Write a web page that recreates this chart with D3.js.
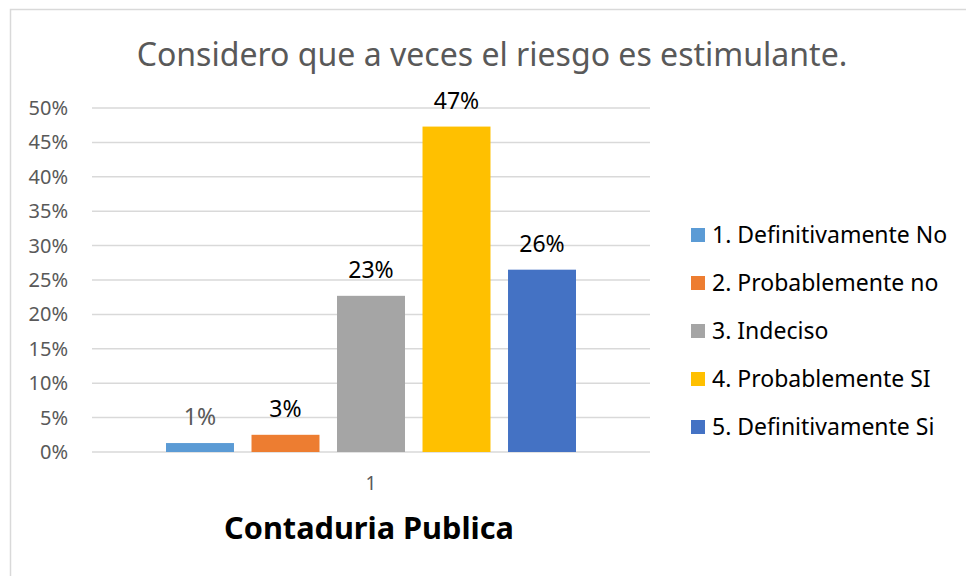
<!DOCTYPE html>
<html>
<head>
<meta charset="utf-8">
<script src="https://cdn.jsdelivr.net/npm/d3@7"></script>
<style>
  body { margin: 0; background: #fff; }
  text { font-family: "Noto Sans", "Open Sans", sans-serif; }
</style>
</head>
<body>
<svg id="chart" width="966" height="576"></svg>
<script>
const TITLE = "Considero que a veces el riesgo es estimulante.";
const AXIS_TITLE = "Contaduria Publica";
const categories = ["1"];
const series = ["1. Definitivamente No", "2. Probablemente no", "3. Indeciso", "4. Probablemente SI", "5. Definitivamente Si"];
const values = [0.013, 0.025, 0.227, 0.473, 0.265];
const labels = ["1%", "3%", "23%", "47%", "26%"];
const colors = ["#5B9BD5", "#ED7D31", "#A5A5A5", "#FFC000", "#4472C4"];
const yTicks = [0, 0.05, 0.1, 0.15, 0.2, 0.25, 0.3, 0.35, 0.4, 0.45, 0.5];

const svg = d3.select("#chart");

// chart border
svg.append("rect")
  .attr("x", 10.5).attr("y", 9.5)
  .attr("width", 970).attr("height", 580)
  .attr("fill", "none")
  .attr("stroke", "#d9d9d9")
  .attr("stroke-width", 1.5);

const plot = { left: 92, right: 650, top: 108, bottom: 452 };

const y = d3.scaleLinear().domain([0, 0.5]).range([plot.bottom, plot.top]);
const x0 = d3.scaleBand().domain(categories).range([plot.left, plot.right]).paddingOuter(0.1805);
const x1 = d3.scaleBand().domain(series).range([0, x0.bandwidth()]).paddingInner(0.205).paddingOuter(0);

// fits text width to a target width by scaling the font size
function fitWidth(sel, target) {
  sel.each(function () {
    const fs = parseFloat(d3.select(this).attr("font-size"));
    const w = this.getComputedTextLength();
    d3.select(this).attr("font-size", fs * target / w);
  });
}

// gridlines
svg.append("g")
  .selectAll("line")
  .data(yTicks)
  .join("line")
  .attr("x1", plot.left).attr("x2", plot.right)
  .attr("y1", d => y(d)).attr("y2", d => y(d))
  .attr("stroke", "#d9d9d9")
  .attr("stroke-width", 1.5);

// y axis labels
const yAxis = svg.append("g")
  .attr("transform", `translate(${plot.left - 24},0)`)
  .call(d3.axisLeft(y).tickValues(yTicks).tickFormat(d3.format(".0%")).tickSize(0).tickPadding(0));
yAxis.select(".domain").remove();
yAxis.selectAll("text")
  .attr("font-size", 20)
  .attr("font-family", "'Noto Sans', sans-serif")
  .attr("fill", "#595959");

// bars
const group = svg.append("g")
  .selectAll("g")
  .data(categories)
  .join("g")
  .attr("transform", d => `translate(${x0(d)},0)`);

group.selectAll("rect")
  .data(series.map((s, i) => ({ s, v: values[i], c: colors[i], l: labels[i], i })))
  .join("rect")
  .attr("x", d => x1(d.s))
  .attr("y", d => y(d.v))
  .attr("width", x1.bandwidth())
  .attr("height", d => y(0) - y(d.v))
  .attr("fill", d => d.c);

group.selectAll("text")
  .data(series.map((s, i) => ({ s, v: values[i], l: labels[i], i })))
  .join("text")
  .attr("x", d => x1(d.s) + x1.bandwidth() / 2)
  .attr("y", d => y(d.v) - 18)
  .attr("text-anchor", "middle")
  .attr("font-size", 23)
  .attr("fill", d => d.i === 0 ? "#595959" : "#000")
  .text(d => d.l);

// category label
svg.append("g")
  .selectAll("text")
  .data(categories)
  .join("text")
  .attr("x", d => x0(d) + x0.bandwidth() / 2)
  .attr("y", 490)
  .attr("text-anchor", "middle")
  .attr("font-size", 19)
  .attr("fill", "#595959")
  .text(d => d);

// axis title
svg.append("text")
  .attr("x", 369)
  .attr("y", 539)
  .attr("text-anchor", "middle")
  .attr("font-size", 30)
  .attr("font-weight", "bold")
  .attr("fill", "#000")
  .text(AXIS_TITLE)
  .call(fitWidth, 290);

// chart title
svg.append("text")
  .attr("x", 492)
  .attr("y", 66)
  .attr("text-anchor", "middle")
  .attr("font-size", 30)
  .attr("fill", "#595959")
  .text(TITLE)
  .call(fitWidth, 711);

// legend
const legend = svg.append("g")
  .selectAll("g")
  .data(series)
  .join("g")
  .attr("transform", (d, i) => `translate(691,${235 + i * 48})`);

legend.append("rect")
  .attr("x", 0).attr("y", -7)
  .attr("width", 14).attr("height", 14)
  .attr("fill", (d, i) => colors[i]);

legend.append("text")
  .attr("x", 21)
  .attr("y", 8)
  .attr("font-size", 23)
  .attr("fill", "#000")
  .text(d => d);
</script>
</body>
</html>
